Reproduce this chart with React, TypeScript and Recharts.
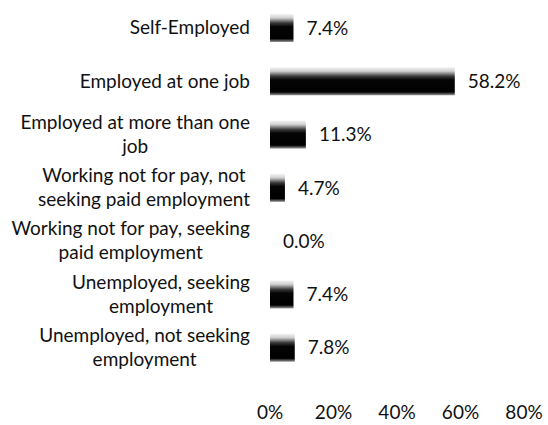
import React from 'react';
import { BarChart, Bar, XAxis, YAxis } from 'recharts';

const categories = [
  'Self-Employed',
  'Employed at one job',
  'Employed at more than one job',
  'Working not for pay, not seeking paid employment',
  'Working not for pay, seeking paid employment',
  'Unemployed, seeking employment',
  'Unemployed, not seeking employment',
];

// how each label breaks over lines in the original
const labelLines = [
  ['Self-Employed'],
  ['Employed at one job'],
  ['Employed at more than one', 'job'],
  ['Working not for pay, not', 'seeking paid employment'],
  ['Working not for pay, seeking', 'paid employment'],
  ['Unemployed, seeking', 'employment'],
  ['Unemployed, not seeking', 'employment'],
];

const shares = [0.074, 0.582, 0.113, 0.047, 0.0, 0.074, 0.078];
const xTicks = [0, 0.2, 0.4, 0.6, 0.8];

const data = categories.map((name, i) => ({ name, value: shares[i] }));

const FONT = 'Lato, "Open Sans", sans-serif';
const FS = 19;

let ctx: CanvasRenderingContext2D | null = null;
const measure = (s: string) => {
  if (!ctx) ctx = document.createElement('canvas').getContext('2d');
  if (!ctx) return s.length * FS * 0.5;
  ctx.font = `${FS}px Lato`;
  return ctx.measureText(s).width;
};

const CategoryTick = (props: any) => {
  const { x, y, index } = props;
  const lines = labelLines[index] || [];
  const lh = 24;
  const start = y - ((lines.length - 1) * lh) / 2;
  const right = x - 12;
  // block is right-aligned, lines centred within it
  const blockW = Math.max(...lines.map(measure));
  const cx = right - blockW / 2;
  return (
    <g>
      {lines.map((ln, i) => (
        <text
          key={i}
          x={cx}
          y={start + i * lh}
          dy="0.35em"
          textAnchor="middle"
          fontSize={FS}
          fontFamily={FONT}
          fill="#111"
        >
          {ln}
        </text>
      ))}
    </g>
  );
};

const BarWithLabel = (props: any) => {
  const { x, y, width, height, value } = props;
  return (
    <g>
      {width > 0 && (
        <rect x={x} y={y} width={width} height={height} fill="url(#barShade)" />
      )}
      <text
        x={x + width + 13}
        y={y + height / 2}
        dy="0.35em"
        fontSize={FS}
        fontFamily={FONT}
        fill="#111"
      >
        {`${(value * 100).toFixed(1)}%`}
      </text>
    </g>
  );
};

const App: React.FC = () => {
  return (
    <div style={{ position: 'absolute', left: 0, top: 0, background: '#fff' }}>
      <BarChart
        width={548}
        height={425}
        data={data}
        layout="vertical"
        margin={{ top: 1, right: 24, left: 0, bottom: 0 }}
        barSize={28}
      >
        <defs>
          <linearGradient id="barShade" x1="0" y1="0" x2="0" y2="1">
            <stop offset="0%" stopColor="#f4f4f4" />
            <stop offset="14%" stopColor="#cfcfcf" />
            <stop offset="32%" stopColor="#3a3a3a" />
            <stop offset="45%" stopColor="#050505" />
            <stop offset="88%" stopColor="#000" />
            <stop offset="100%" stopColor="#9a9a9a" />
          </linearGradient>
        </defs>
        <XAxis
          type="number"
          domain={[0, 0.8]}
          ticks={xTicks}
          tickFormatter={(v: number) => `${Math.round(v * 100)}%`}
          axisLine={false}
          tickLine={false}
          tickMargin={26}
          height={51}
          tick={{ fontSize: FS, fontFamily: FONT, fill: '#111' }}
        />
        <YAxis
          type="category"
          dataKey="name"
          width={270}
          axisLine={false}
          tickLine={false}
          tick={<CategoryTick />}
          interval={0}
        />
        <Bar dataKey="value" isAnimationActive={false} shape={<BarWithLabel />} />
      </BarChart>
    </div>
  );
};

export default App;
